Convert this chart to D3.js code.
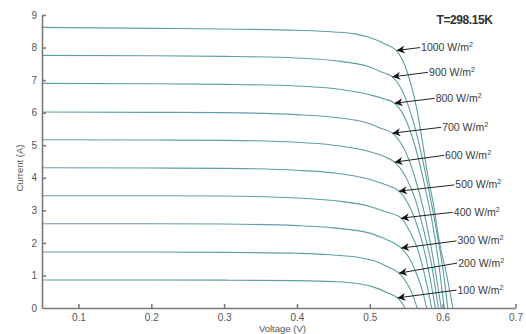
<!DOCTYPE html>
<html>
<head>
<meta charset="utf-8">
<script src="https://cdn.jsdelivr.net/npm/d3@7"></script>
<style>
  body { margin: 0; background: #fff; }
  svg { font-family: 'Liberation Sans', Arial, sans-serif; }
  .axis path, .axis line { stroke: #7a7a7a; stroke-width: 1.6; }
  .axis text { fill: #555; font-size: 10px; }
  .curve { fill: none; stroke: #5f9ea4; stroke-width: 1.1; }
  .ann text { fill: #3a3a3a; font-size: 10.5px; }
  .ann line { stroke: #222; stroke-width: 1; }
</style>
</head>
<body>
<script>
const WIDTH = 526;
const HEIGHT = 334;
const MARGIN = { top: 15, right: 10, bottom: 26, left: 42 };

// irradiance levels (W/m^2), one curve each
const irradiance = [100, 200, 300, 400, 500, 600, 700, 800, 900, 1000];

// voltage (V) / current (A) points for each curve
const volt100 = [0.05, 0.2, 0.3, 0.4, 0.45, 0.48, 0.5, 0.513, 0.525, 0.538, 0.544, 0.548];
const amp100 = [0.86, 0.86, 0.855, 0.84, 0.81, 0.76, 0.68, 0.58, 0.46, 0.31, 0.16, 0];
const volt200 = [0.05, 0.2, 0.3, 0.4, 0.45, 0.49, 0.51, 0.523, 0.54, 0.55, 0.558, 0.565];
const amp200 = [1.72, 1.72, 1.71, 1.68, 1.63, 1.53, 1.42, 1.28, 1.07, 0.8, 0.45, 0];
const volt300 = [0.05, 0.2, 0.3, 0.4, 0.45, 0.5, 0.52, 0.531, 0.543, 0.555, 0.565, 0.572, 0.578];
const amp300 = [2.59, 2.59, 2.58, 2.53, 2.46, 2.3, 2.13, 2.02, 1.84, 1.5, 1.0, 0.55, 0];
const volt400 = [0.05, 0.2, 0.3, 0.4, 0.45, 0.5, 0.52, 0.543, 0.555, 0.565, 0.575, 0.585];
const amp400 = [3.45, 3.45, 3.44, 3.38, 3.3, 3.12, 2.97, 2.76, 2.35, 1.85, 1.05, 0];
const volt500 = [0.05, 0.2, 0.3, 0.4, 0.45, 0.5, 0.52, 0.54, 0.555, 0.567, 0.578, 0.59];
const amp500 = [4.31, 4.3, 4.29, 4.23, 4.15, 3.95, 3.8, 3.59, 3.1, 2.4, 1.45, 0];
const volt600 = [0.05, 0.2, 0.3, 0.4, 0.45, 0.5, 0.52, 0.534, 0.55, 0.563, 0.575, 0.585, 0.594];
const amp600 = [5.17, 5.16, 5.15, 5.09, 5.0, 4.8, 4.65, 4.48, 4.0, 3.3, 2.3, 1.3, 0];
const volt700 = [0.05, 0.2, 0.3, 0.4, 0.45, 0.5, 0.515, 0.531, 0.548, 0.562, 0.573, 0.583, 0.591, 0.598];
const amp700 = [6.02, 6.01, 6.0, 5.94, 5.86, 5.66, 5.52, 5.37, 4.85, 4.0, 3.1, 2.0, 1.0, 0];
const volt800 = [0.05, 0.2, 0.3, 0.4, 0.45, 0.5, 0.52, 0.534, 0.55, 0.563, 0.575, 0.586, 0.595, 0.602];
const amp800 = [6.9, 6.89, 6.87, 6.82, 6.74, 6.55, 6.42, 6.29, 5.75, 4.9, 3.8, 2.6, 1.3, 0];
const volt900 = [0.05, 0.2, 0.3, 0.4, 0.45, 0.5, 0.515, 0.531, 0.548, 0.56, 0.572, 0.583, 0.593, 0.601, 0.607];
const amp900 = [7.76, 7.75, 7.73, 7.68, 7.6, 7.4, 7.26, 7.1, 6.5, 5.7, 4.6, 3.4, 2.2, 1.1, 0];
const volt1000 = [0.05, 0.2, 0.3, 0.4, 0.45, 0.48, 0.5, 0.52, 0.537, 0.552, 0.564, 0.572, 0.579, 0.588, 0.595, 0.605, 0.614];
const amp1000 = [8.62, 8.59, 8.57, 8.53, 8.48, 8.42, 8.31, 8.12, 7.9, 7.21, 6.17, 5.15, 4.14, 3.1, 2.09, 1.07, 0];

const voltSeries = [volt100, volt200, volt300, volt400, volt500, volt600, volt700, volt800, volt900, volt1000];
const ampSeries = [amp100, amp200, amp300, amp400, amp500, amp600, amp700, amp800, amp900, amp1000];

// where each arrow points on its curve (V, A) and where its label sits (V, A)
const arrowTipV = [0.538, 0.54, 0.543, 0.543, 0.54, 0.534, 0.531, 0.534, 0.531, 0.537];
const arrowTipA = [0.31, 1.07, 1.84, 2.76, 3.59, 4.48, 5.37, 6.29, 7.1, 7.91];
const labelV = [0.619, 0.62, 0.619, 0.614, 0.616, 0.602, 0.598, 0.589, 0.58, 0.569];
const labelA = [0.55, 1.38, 2.06, 2.94, 3.78, 4.69, 5.55, 6.44, 7.24, 8.0];

const xTicks = [0.1, 0.2, 0.3, 0.4, 0.5, 0.6, 0.7];
const yTicks = [0, 1, 2, 3, 4, 5, 6, 7, 8, 9];

const innerW = WIDTH - MARGIN.left - MARGIN.right;
const innerH = HEIGHT - MARGIN.top - MARGIN.bottom;

const svg = d3.select('body').append('svg')
  .attr('width', WIDTH)
  .attr('height', HEIGHT);

svg.append('defs').append('marker')
  .attr('id', 'head')
  .attr('viewBox', '0 0 10 10')
  .attr('refX', 10)
  .attr('refY', 5)
  .attr('markerWidth', 9)
  .attr('markerHeight', 8)
  .attr('markerUnits', 'userSpaceOnUse')
  .attr('orient', 'auto')
  .append('path')
  .attr('d', 'M0,0 L10,5 L0,10 L3,5 Z')
  .attr('fill', '#111');

const g = svg.append('g')
  .attr('transform', 'translate(' + MARGIN.left + ',' + MARGIN.top + ')');

const x = d3.scaleLinear().domain([0.05, 0.7]).range([0, innerW - 0.5]);
const y = d3.scaleLinear().domain([0, 9]).range([innerH, 0]);

// the I-V curves
const line = d3.line()
  .x((d) => x(d[0]))
  .y((d) => y(d[1]))
  .curve(d3.curveMonotoneX);

g.selectAll('path.curve')
  .data(irradiance)
  .join('path')
  .attr('class', 'curve')
  .attr('d', (d, i) => line(voltSeries[i].map((v, j) => [v, ampSeries[i][j]])));

// x axis
g.append('g')
  .attr('class', 'x axis')
  .attr('transform', 'translate(0,' + innerH + ')')
  .call(d3.axisBottom(x).tickValues(xTicks).tickSize(-4).tickSizeOuter(0).tickPadding(6).tickFormat(d3.format('.1f')));

// y axis
g.append('g')
  .attr('class', 'y axis')
  .call(d3.axisLeft(y).tickValues(yTicks).tickSize(-4).tickSizeOuter(0).tickPadding(5));

g.select('.y.axis').selectAll('.tick').filter((d) => d === 0).select('line').remove();

g.append('text')
  .attr('x', x(0.38))
  .attr('y', innerH + 24)
  .attr('text-anchor', 'middle')
  .attr('fill', '#555')
  .style('font-size', '9.5px')
  .text('Voltage (V)');

g.append('text')
  .attr('transform', 'translate(' + (-19) + ',' + y(4.3) + ') rotate(-90)')
  .attr('text-anchor', 'middle')
  .attr('fill', '#555')
  .style('font-size', '9.5px')
  .text('Current (A)');

// temperature caption
g.append('text')
  .attr('x', x(0.5915))
  .attr('y', y(8.73))
  .attr('fill', '#333')
  .style('font-size', '12px')
  .style('font-weight', 'bold')
  .style('letter-spacing', '-0.4px')
  .text('T=298.15K');

// arrows with irradiance labels
const ann = g.append('g').attr('class', 'ann');

ann.selectAll('line')
  .data(irradiance)
  .join('line')
  .attr('x1', (d, i) => x(labelV[i]))
  .attr('y1', (d, i) => y(labelA[i]))
  .attr('x2', (d, i) => x(arrowTipV[i]))
  .attr('y2', (d, i) => y(arrowTipA[i]))
  .attr('marker-end', 'url(#head)');

const labels = ann.selectAll('text')
  .data(irradiance)
  .join('text')
  .attr('x', (d, i) => x(labelV[i]) + 1)
  .attr('y', (d, i) => y(labelA[i]) + 3.5);

labels.append('tspan').text((d) => d + ' W/m');
labels.append('tspan')
  .attr('dy', -4)
  .style('font-size', '7px')
  .text('2');
</script>
</body>
</html>
